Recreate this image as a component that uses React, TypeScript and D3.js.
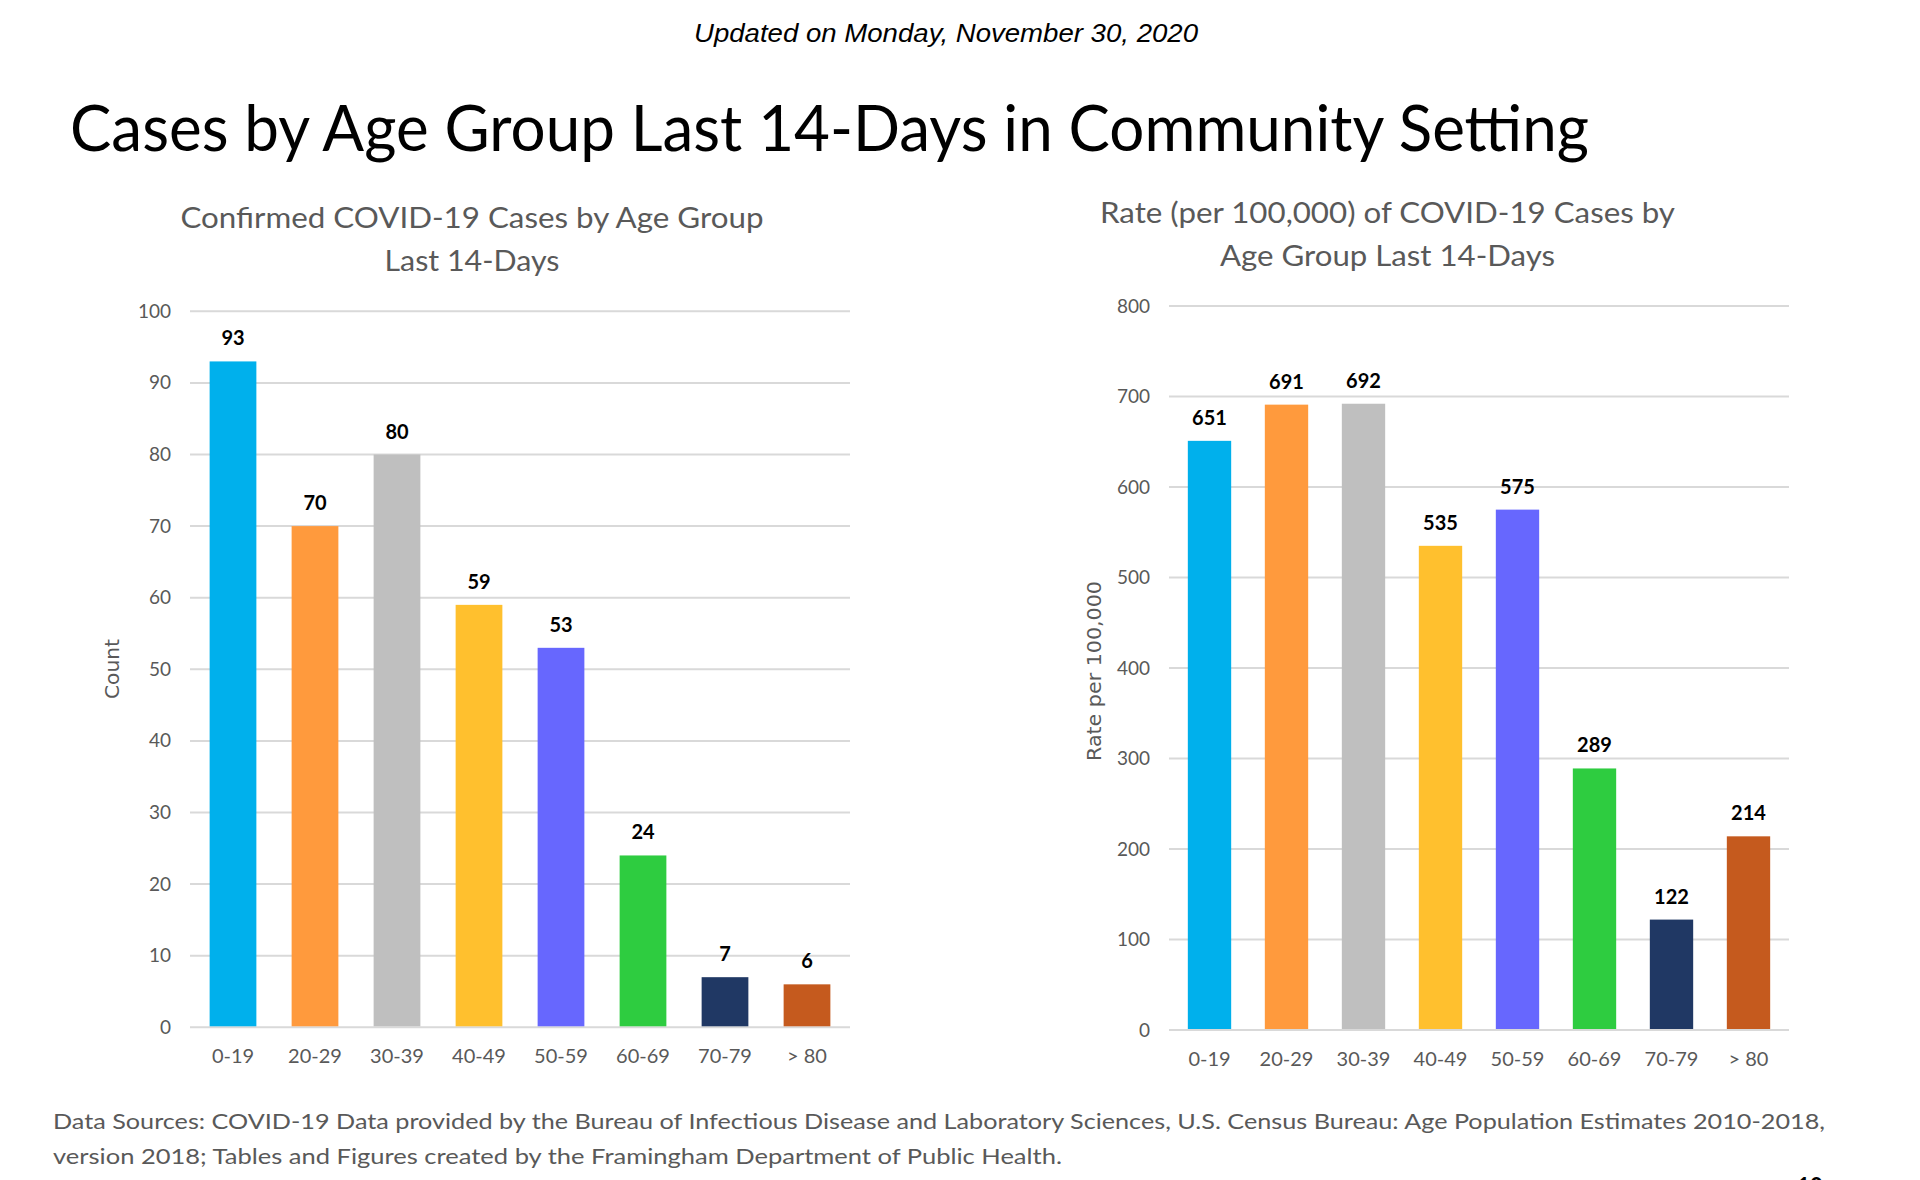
import * as d3 from 'd3';
import { useEffect, useRef } from 'react';

const ageGroups = ['0-19', '20-29', '30-39', '40-49', '50-59', '60-69', '70-79', '> 80'];
const caseCounts = [93, 70, 80, 59, 53, 24, 7, 6];
const caseRates = [651, 691, 692, 535, 575, 289, 122, 214];
const barColors = ['#00B0EC', '#FF9A3D', '#BFBFBF', '#FFC02E', '#6767FE', '#2ECC40', '#203864', '#C55A1E'];
const countTicks = [0, 10, 20, 30, 40, 50, 60, 70, 80, 90, 100];
const rateTicks = [0, 100, 200, 300, 400, 500, 600, 700, 800];

const GRAY = '#595959';
const SANS = 'Lato, "Open Sans", sans-serif';

type ChartSpec = {
  values: number[];
  ticks: number[];
  max: number;
  x0: number;
  x1: number;
  yBottom: number;
  yTop: number;
  inner: number;
  tickRight: number;
  axisTitle: string;
  axisTitleX: number;
  axisTitleY: number;
  axisTitleLen: number;
  titleLines: string[];
  titleX: number;
  titleY: number[];
  titleLen: number[];
};

const drawBarChart = (svg: any, c: ChartSpec) => {
  const g = svg.append('g');

  const x = d3
    .scaleBand()
    .domain(ageGroups)
    .range([c.x0, c.x1])
    .paddingInner(c.inner)
    .paddingOuter(c.inner / 2);

  const y = d3.scaleLinear().domain([0, c.max]).range([c.yBottom, c.yTop]);

  // gridlines
  g.selectAll('line.grid')
    .data(c.ticks)
    .join('line')
    .attr('class', 'grid')
    .attr('x1', c.x0 - 2)
    .attr('x2', c.x1 + 2)
    .attr('y1', (d) => y(d))
    .attr('y2', (d) => y(d))
    .style('stroke', '#D9D9D9')
    .style('stroke-width', 2);

  // y axis labels
  const yAxis = g
    .append('g')
    .attr('transform', `translate(${c.tickRight + 10}, 0)`)
    .call(d3.axisLeft(y).tickValues(c.ticks).tickSize(0).tickPadding(10));
  yAxis.select('.domain').remove();
  yAxis
    .selectAll('text')
    .style('font-family', SANS)
    .style('font-size', '19px')
    .style('fill', GRAY);

  // x axis labels
  const xAxis = g
    .append('g')
    .attr('transform', `translate(0, ${c.yBottom})`)
    .call(d3.axisBottom(x).tickSize(0).tickPadding(22));
  xAxis.select('.domain').remove();
  xAxis
    .selectAll('text')
    .style('font-family', SANS)
    .style('font-size', '20px')
    .style('fill', GRAY);

  // bars
  g.selectAll('rect.bar')
    .data(c.values)
    .join('rect')
    .attr('class', 'bar')
    .attr('x', (d, i) => x(ageGroups[i]))
    .attr('y', (d) => y(d))
    .attr('width', x.bandwidth())
    .attr('height', (d) => c.yBottom - 1 - y(d))
    .style('fill', (d, i) => barColors[i]);

  // value labels
  g.selectAll('text.value')
    .data(c.values)
    .join('text')
    .attr('class', 'value')
    .attr('text-anchor', 'middle')
    .attr('x', (d, i) => x(ageGroups[i]) + x.bandwidth() / 2)
    .attr('y', (d) => y(d) - 16)
    .text((d) => d)
    .style('font-family', SANS)
    .style('font-weight', 'bold')
    .style('font-size', '20px')
    .style('fill', '#000');

  // axis title
  g.append('text')
    .attr('text-anchor', 'middle')
    .attr('transform', `translate(${c.axisTitleX}, ${c.axisTitleY}) rotate(-90)`)
    .attr('textLength', c.axisTitleLen)
    .attr('lengthAdjust', 'spacingAndGlyphs')
    .text(c.axisTitle)
    .style('font-family', '"DejaVu Sans", sans-serif')
    .style('font-size', '20px')
    .style('fill', GRAY);

  // chart title
  c.titleLines.forEach((line, i) => {
    g.append('text')
      .attr('text-anchor', 'middle')
      .attr('x', c.titleX)
      .attr('y', c.titleY[i])
      .attr('textLength', c.titleLen[i])
      .attr('lengthAdjust', 'spacingAndGlyphs')
      .text(line)
      .style('font-family', SANS)
      .style('font-size', '29px')
      .style('fill', GRAY);
  });
};

const App = () => {
  const ref = useRef(null);

  useEffect(() => {
    const svg = d3.select(ref.current);
    svg.selectAll('*').remove();

    svg
      .append('text')
      .attr('text-anchor', 'middle')
      .attr('x', 946)
      .attr('y', 42)
      .attr('textLength', 504)
      .attr('lengthAdjust', 'spacingAndGlyphs')
      .text('Updated on Monday, November 30, 2020')
      .style('font-family', '"Liberation Sans", Arial, sans-serif')
      .style('font-style', 'italic')
      .style('font-size', '25px')
      .style('fill', '#000');

    svg
      .append('text')
      .attr('x', 70)
      .attr('y', 151)
      .attr('textLength', 1519)
      .attr('lengthAdjust', 'spacingAndGlyphs')
      .text('Cases by Age Group Last 14-Days in Community Setting')
      .style('font-family', SANS)
      .style('font-size', '63px')
      .style('fill', '#000');

    drawBarChart(svg, {
      values: caseCounts,
      ticks: countTicks,
      max: 100,
      x0: 192,
      x1: 848,
      yBottom: 1027.3,
      yTop: 311.3,
      inner: 0.43,
      tickRight: 171,
      axisTitle: 'Count',
      axisTitleX: 119,
      axisTitleY: 669,
      axisTitleLen: 60,
      titleLines: ['Confirmed COVID-19 Cases by Age Group', 'Last 14-Days'],
      titleX: 472,
      titleY: [228, 271],
      titleLen: [583, 175],
    });

    drawBarChart(svg, {
      values: caseRates,
      ticks: rateTicks,
      max: 800,
      x0: 1171,
      x1: 1787,
      yBottom: 1030,
      yTop: 306,
      inner: 0.437,
      tickRight: 1150,
      axisTitle: 'Rate per 100,000',
      axisTitleX: 1101,
      axisTitleY: 671,
      axisTitleLen: 180,
      titleLines: ['Rate (per 100,000) of COVID-19 Cases by', 'Age Group Last 14-Days'],
      titleX: 1387.5,
      titleY: [223, 266],
      titleLen: [575, 335],
    });

    const footer = [
      {
        text: 'Data Sources: COVID-19 Data provided by the Bureau of Infectious Disease and Laboratory Sciences, U.S. Census Bureau: Age Population Estimates 2010-2018,',
        y: 1129,
        len: 1772,
      },
      {
        text: 'version 2018; Tables and Figures created by the Framingham Department of Public Health.',
        y: 1164,
        len: 1009,
      },
    ];
    svg
      .selectAll('text.footer')
      .data(footer)
      .join('text')
      .attr('class', 'footer')
      .attr('x', 53)
      .attr('y', (d) => d.y)
      .attr('textLength', (d) => d.len)
      .attr('lengthAdjust', 'spacingAndGlyphs')
      .text((d) => d.text)
      .style('font-family', SANS)
      .style('font-size', '22px')
      .style('fill', GRAY);

    // slide number, mostly below the bottom edge
    svg
      .append('text')
      .attr('text-anchor', 'middle')
      .attr('x', 1810)
      .attr('y', 1194)
      .text('10')
      .style('font-family', SANS)
      .style('font-weight', 'bold')
      .style('font-size', '22px')
      .style('fill', '#000');
  }, []);

  return (
    <svg
      ref={ref}
      width={1920}
      height={1180}
      style={{ position: 'absolute', left: 0, top: 0, background: '#fff', display: 'block' }}
    ></svg>
  );
};

export default App;
